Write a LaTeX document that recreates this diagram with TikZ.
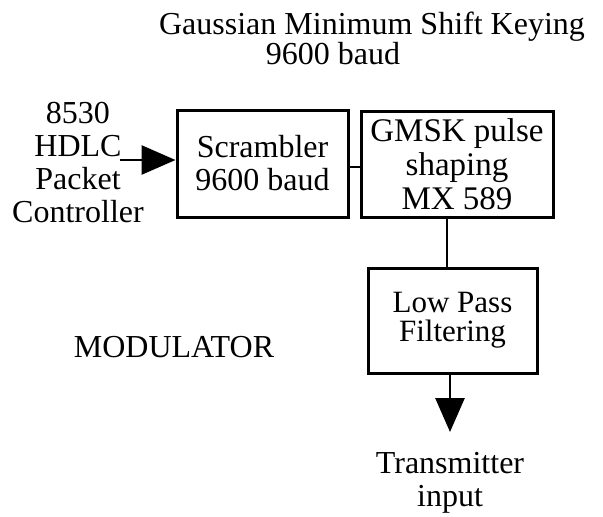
\documentclass[tikz,border=0pt]{standalone}
\usepackage{fontspec}
\setmainfont{Liberation Serif}
\usetikzlibrary{arrows.meta}
\begin{document}
\begin{tikzpicture}[x=1pt,y=-1pt,
  every node/.style={font=\fontsize{32}{33}\selectfont, inner sep=0pt},
  blk/.style={draw, line width=3pt, align=center},
  wire/.style={line width=2.8pt},
  arr/.style={line width=2.8pt,-{Triangle[length=34pt,width=29pt]}}]
\useasboundingbox (0,0) rectangle (603,517);
\node[blk, minimum width=171pt, minimum height=107pt] (scr) at (262.5,163.5) {Scrambler\\9600 baud};
\node[blk, minimum width=192pt, minimum height=106pt, font=\fontsize{33}{34}\selectfont] (gmsk) at (457,164) {GMSK pulse\\shaping\\MX 589};
\node[blk, minimum width=169pt, minimum height=105pt, font=\fontsize{31}{29}\selectfont] (lpf) at (452.5,320.5) {Low Pass\\Filtering};
\node[align=center] (src) at (78,163) {8530\\HDLC\\Packet\\Controller};
\node[anchor=base] (t1) at (372,34) {Gaussian Minimum Shift Keying};
\node[anchor=base] (t2) at (333,64) {9600 baud};
\node[anchor=base] (mod) at (174,357) {MODULATOR};
\node[align=center, anchor=north] (tx) at (450,452) {Transmitter\\input};
\coordinate (in) at (120,160);
\draw[arr] (in) -- (scr.west |- in);
\coordinate (c1) at (0,167);
\draw[wire] (scr.east |- c1) -- (gmsk.west |- c1);
\coordinate (v1) at (447,0);
\draw[wire] (v1 |- gmsk.south) -- (v1 |- lpf.north);
\coordinate (v2) at (450,432);
\draw[arr] (v2 |- lpf.south) -- (v2);
\end{tikzpicture}
\end{document}
